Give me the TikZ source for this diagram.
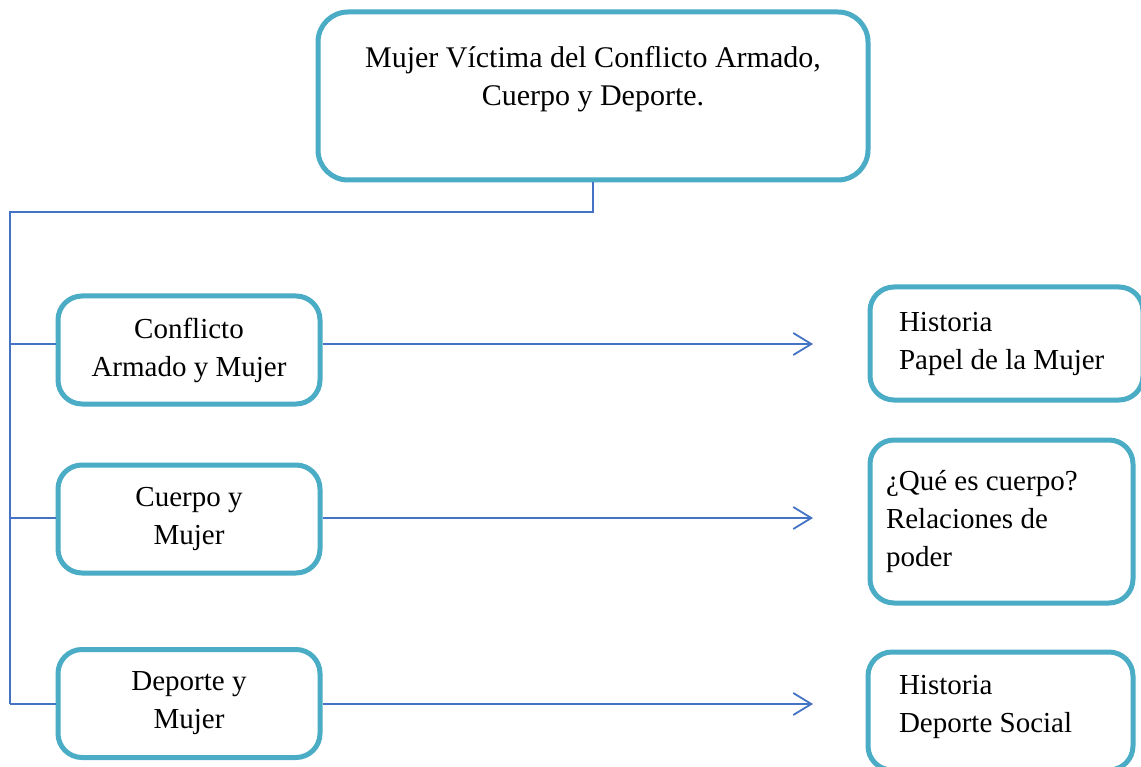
\documentclass[tikz,border=0pt]{standalone}
\usepackage{fontspec}
\setmainfont{Liberation Serif}
\usetikzlibrary{arrows.meta}
\definecolor{boxc}{RGB}{75,172,198}
\definecolor{linec}{RGB}{68,114,196}
\tikzset{
  bx/.style={draw=boxc, line width=5pt, rounded corners=24pt, fill=white, inner sep=0pt,
    font=\fontsize{29}{38}\selectfont},
  conn/.style={draw=linec, line width=1.8pt},
  arr/.style={conn, -{Straight Barb[length=18pt,width=22pt,line width=1.8pt]}},
}
\begin{document}
\begin{tikzpicture}[x=1pt,y=-1pt]
\clip (0,0) rectangle (1141,767);
\fill[white] (0,0) rectangle (1141,767);
% top
\node[bx, rounded corners=30pt, minimum width=550pt, minimum height=168pt] (top) at (593,96)
  {\parbox[c][160pt][t]{540pt}{\centering\vspace{30pt}\fontsize{30}{38}\selectfont Mujer Víctima del Conflicto Armado,\\Cuerpo y Deporte.}};
% left boxes
\node[bx, minimum width=262pt, minimum height=108pt, align=center] (b1) at (189,350) {Conflicto\\Armado y Mujer};
\node[bx, minimum width=262pt, minimum height=108pt, align=center] (b2) at (189,519) {Cuerpo y\\Mujer};
\node[bx, minimum width=262pt, minimum height=108pt, align=center] (b3) at (189,703.5) {Deporte y\\Mujer};
% right boxes
\node[bx, minimum width=273pt, minimum height=113pt] (r1) at (1006.5,343.5)
  {\parbox{273pt}{\hspace*{29pt}Historia\\\hspace*{29pt}Papel de la Mujer}};
\node[bx, minimum width=263pt, minimum height=163pt] (r2) at (1001.5,521.5)
  {\parbox{263pt}{\hspace*{16pt}¿Qué es cuerpo?\\\hspace*{16pt}Relaciones de\\\hspace*{16pt}poder}};
\node[bx, minimum width=265pt, minimum height=118pt] (r3) at (1000.5,711)
  {\parbox[c][118pt][t]{265pt}{\vspace{23pt}\hspace*{31pt}Historia\\\hspace*{31pt}Deporte Social}};
% connectors
\coordinate (j0) at (593,212);
\coordinate (j1) at (10,212);
\coordinate (jb) at (10,704);
\draw[conn] (top.south) -- (j0) -- (j1) -- (jb);
\coordinate (s1) at (10,344);
\coordinate (s2) at (10,518);
\draw[conn] (s1) -- (b1.west |- s1);
\draw[conn] (s2) -- (b2.west |- s2);
\draw[conn] (jb) -- (b3.west |- jb);
\coordinate (t1) at (813,344);
\coordinate (t2) at (813,518);
\coordinate (t3) at (813,704);
\draw[arr] (b1.east |- t1) -- (t1);
\draw[arr] (b2.east |- t2) -- (t2);
\draw[arr] (b3.east |- t3) -- (t3);
\end{tikzpicture}
\end{document}
